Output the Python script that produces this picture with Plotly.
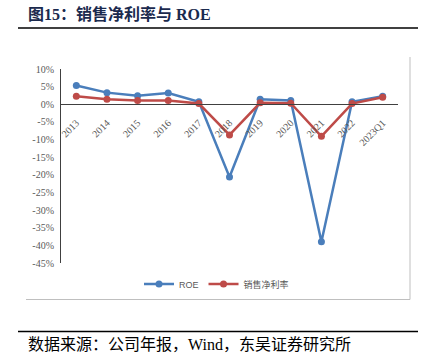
import plotly.graph_objects as go

categories = ["2013", "2014", "2015", "2016", "2017", "2018", "2019", "2020", "2021", "2022", "2023Q1"]
roe = [5.3, 3.3, 2.4, 3.2, 0.7, -20.6, 1.4, 1.1, -39.0, 0.7, 2.3]
net_margin = [2.3, 1.4, 1.1, 1.1, 0.2, -8.7, 0.4, 0.3, -9.1, 0.2, 2.0]
y_ticks = [10, 5, 0, -5, -10, -15, -20, -25, -30, -35, -40, -45]
y_tick_labels = ["%d%%" % v for v in y_ticks]

W, H = 433, 355
L, R, T, B = 61, 35, 69, 92
PW, PH = W - L - R, H - T - B


def X(px):
    return (px - L) / PW


def Y(py):
    return (H - B - py) / PH


BLUE = "#4A7EBB"
RED = "#BE4B48"
GRAY = "#595959"
SERIF = "Liberation Serif, Noto Sans CJK SC"

fig = go.Figure()
fig.add_trace(go.Scatter(
    x=categories, y=roe, name="ROE", mode="lines+markers",
    line=dict(color=BLUE, width=2.5), marker=dict(color=BLUE, size=7),
))
fig.add_trace(go.Scatter(
    x=categories, y=net_margin, name="销售净利率", mode="lines+markers",
    line=dict(color=RED, width=2.5), marker=dict(color=RED, size=7),
))

ymin, ymax = min(y_ticks), max(y_ticks)
zero_pos = (0 - ymin) / (ymax - ymin)

fig.update_layout(
    width=W, height=H,
    margin=dict(l=L, r=R, t=T, b=B, autoexpand=False),
    paper_bgcolor="white", plot_bgcolor="white",
    showlegend=True,
    legend=dict(orientation="h", xref="container", x=0.5, xanchor="center",
                yref="container", y=(H - 284) / H, yanchor="middle",
                font=dict(family="Liberation Sans, Noto Sans CJK SC", size=9, color=GRAY),
                itemwidth=30, tracegroupgap=0, bgcolor="rgba(0,0,0,0)"),
    xaxis=dict(type="category", range=[-0.5, len(categories) - 0.5],
               anchor="free", position=zero_pos, automargin=False,
               showline=True, linecolor="#404040", linewidth=1,
               showgrid=False, zeroline=False, ticks="", ticklabelstandoff=8,
               tickangle=-45, tickfont=dict(family=SERIF, size=10, color=GRAY)),
    yaxis=dict(range=[ymin, ymax], tickvals=y_ticks, ticktext=y_tick_labels, automargin=False,
               showline=True, linecolor="#404040", linewidth=1,
               showgrid=False, zeroline=False, ticks="", ticklabelstandoff=4,
               tickfont=dict(family=SERIF, size=10, color=GRAY)),
)

shapes = [
    dict(type="line", xref="paper", yref="paper", x0=X(18), x1=X(418), y0=Y(28), y1=Y(28),
         line=dict(color="black", width=1.6)),
    dict(type="line", xref="paper", yref="paper", x0=X(410), x1=X(410), y0=Y(57), y1=Y(299.5),
         line=dict(color="#BFBFBF", width=1)),
    dict(type="line", xref="paper", yref="paper", x0=X(26), x1=X(410), y0=Y(299.5), y1=Y(299.5),
         line=dict(color="#BFBFBF", width=1)),
    dict(type="line", xref="paper", yref="paper", x0=X(18), x1=X(418), y0=Y(331.5), y1=Y(331.5),
         line=dict(color="black", width=1.6)),
]
fig.update_layout(shapes=shapes)

fig.add_annotation(text="<b>图15：销售净利率与 ROE</b>", xref="paper", yref="paper",
                   x=X(26), y=Y(14), xanchor="left", yanchor="middle", showarrow=False,
                   font=dict(family=SERIF, size=16, color="#1B2A4E"))
fig.add_annotation(text="数据来源：公司年报，Wind，东吴证券研究所", xref="paper", yref="paper",
                   x=X(26), y=Y(344), xanchor="left", yanchor="middle", showarrow=False,
                   font=dict(family=SERIF, size=16, color="black"))

fig.write_html("out.html", config={"displayModeBar": False},
               post_script="document.body.style.margin='0';document.body.style.overflow='hidden';")
